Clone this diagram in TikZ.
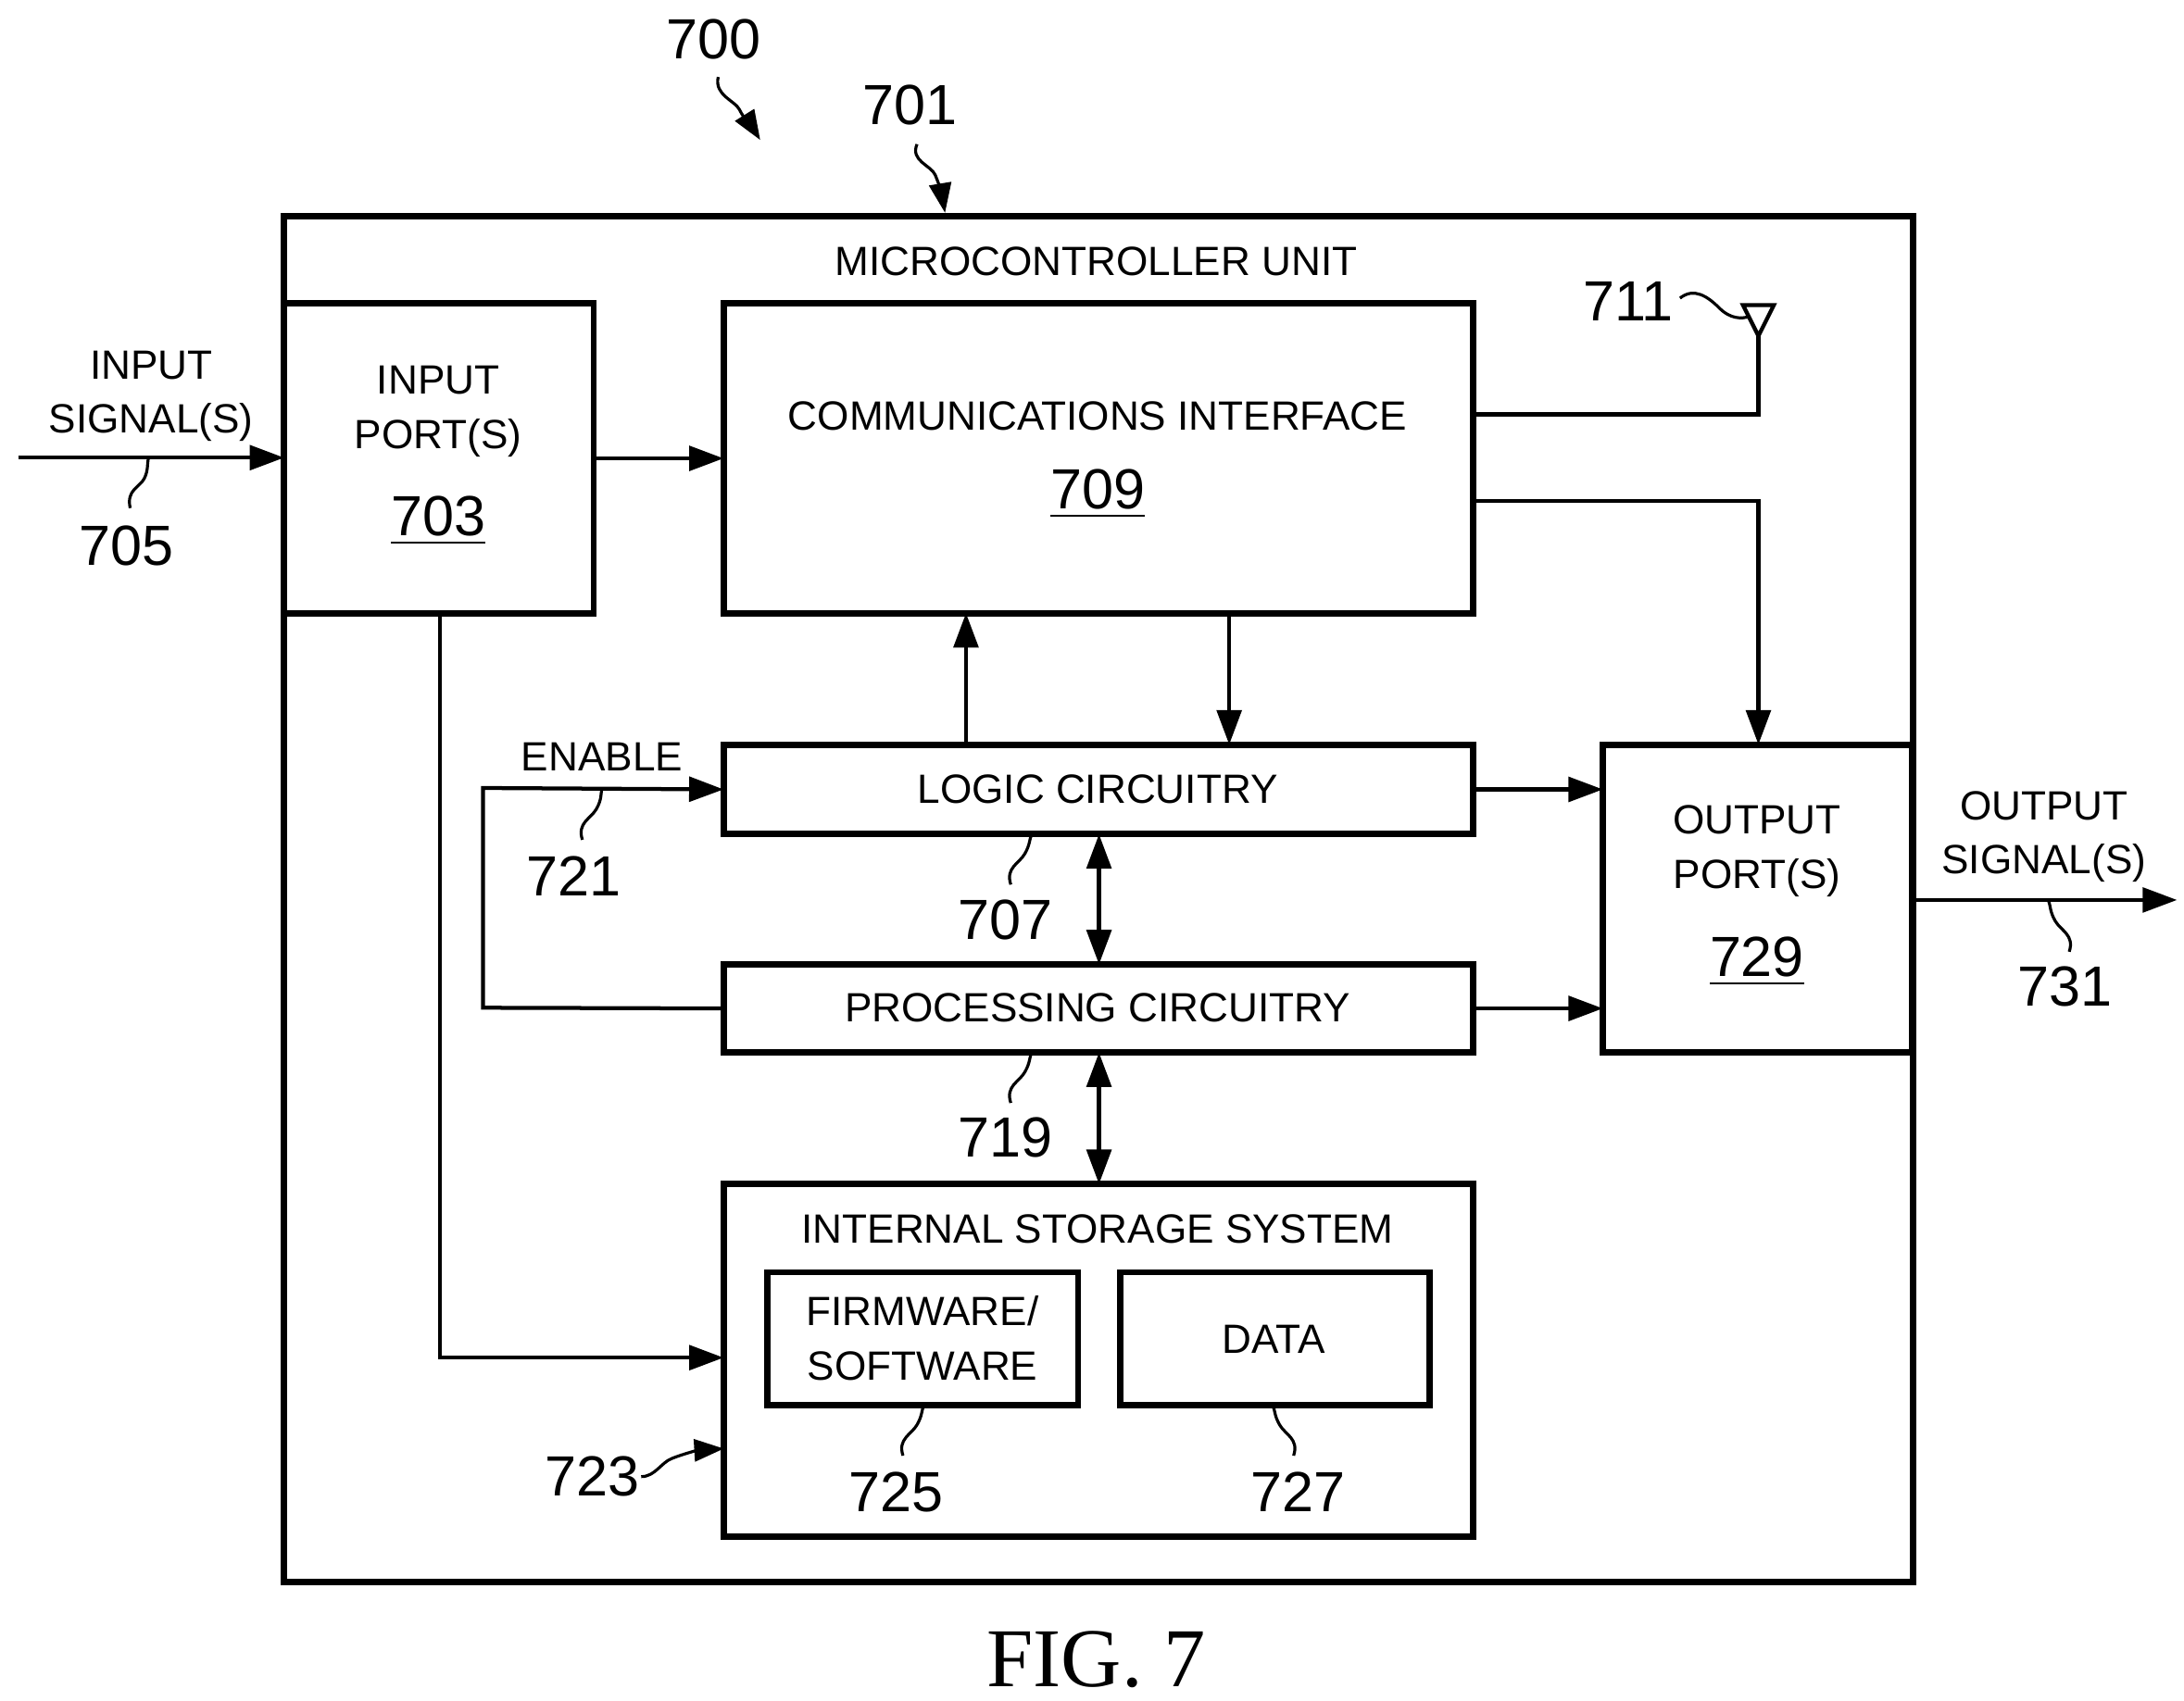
\documentclass[tikz,border=0pt]{standalone}
\usepackage{fontspec}
\setmainfont{Liberation Sans}
\newfontfamily\figfont{Liberation Serif}
\usetikzlibrary{arrows.meta,calc}
\begin{document}
\begin{tikzpicture}[x=0.01cm,y=-0.01cm,
  box/.style={draw,line width=1.3pt,inner sep=0pt,outer sep=0pt},
  lab/.style={font=\fontsize{8.3}{11}\selectfont,align=center,inner sep=0pt},
  num/.style={font=\fontsize{11.5}{14}\selectfont,inner sep=0pt},
  arr/.style={line width=0.8pt,-{Triangle[length=7pt,width=5pt]}},
  darr/.style={line width=0.8pt,{Triangle[length=7pt,width=5pt]}-{Triangle[length=7pt,width=5pt]}},
  ln/.style={line width=0.8pt},
  lead/.style={line width=0.6pt}]
\useasboundingbox (0,0) rectangle (1560,1215);
\node[box,minimum width=11.63cm,minimum height=9.75cm] (mcu) at (784.5,642.5) {};
\node[lab] at (783,187) {MICROCONTROLLER UNIT};
\node[box,minimum width=2.21cm,minimum height=2.21cm] (ip) at (313.5,327.5) {};
\node[lab] at (313,294) {INPUT\\PORT(S)};
\node[num] at (313,372) {\underline{703}};
\node[box,minimum width=5.35cm,minimum height=2.21cm] (ci) at (784.5,327.5) {};
\node[lab] at (784,297) {COMMUNICATIONS INTERFACE};
\node[num] at (784,353) {\underline{709}};
\node[box,minimum width=5.35cm,minimum height=0.64cm] (lc) at (784.5,564) {};
\node[lab] at (784,564) {LOGIC CIRCUITRY};
\node[box,minimum width=5.35cm,minimum height=0.63cm] (pc) at (784.5,720.5) {};
\node[lab] at (784,720) {PROCESSING CIRCUITRY};
\node[box,minimum width=5.35cm,minimum height=2.52cm] (st) at (784.5,972) {};
\node[lab] at (784,878) {INTERNAL STORAGE SYSTEM};
\node[box,minimum width=2.22cm,minimum height=0.95cm] (fw) at (659,956.5) {};
\node[lab] at (659,956) {FIRMWARE/\\SOFTWARE};
\node[box,minimum width=2.21cm,minimum height=0.95cm] (da) at (910.5,956.5) {};
\node[lab] at (910,957) {DATA};
\node[box,minimum width=2.21cm,minimum height=2.2cm] (op) at (1255.5,642) {};
\node[lab] at (1255,608) {OUTPUT\\PORT(S)};
\node[num] at (1255,687) {\underline{729}};
% antenna
\coordinate (ant) at (1256,240);
\draw[line width=0.8pt] (1245,218) -- (1267,218) -- (ant) -- cycle;
\draw[ln] (ci.east |- 0,296) -- (1256,296) -- (ant);
% arrows
\coordinate (in) at (13,327);
\draw[arr] (in) -- (ip.west |- in);
\draw[arr] (ip.east) -- (ci.west);
\draw[arr] (ci.east |- 0,358) -- (1256,358) -- (op.north -| 1256,0);
\draw[arr] (lc.north -| 690,0) -- (ci.south -| 690,0);
\draw[arr] (ci.south -| 878,0) -- (lc.north -| 878,0);
\draw[arr] (lc.east) -- (op.west |- lc.east);
\draw[arr] (pc.east) -- (op.west |- pc.east);
\draw[darr] (lc.south -| 785,0) -- (pc.north -| 785,0);
\draw[darr] (pc.south -| 785,0) -- (st.north -| 785,0);
\draw[arr] (pc.west) -- (345,720) -- (345,563) -- (lc.west);
\draw[arr] (ip.south -| 314,0) -- (314,970) -- (st.west |- 0,970);
\coordinate (out) at (1555,643);
\draw[arr] (op.east |- out) -- (out);
% texts
\node[lab] at (108,283) {INPUT\\SIGNAL(S)};
\node[lab] at (1460,598) {OUTPUT\\SIGNAL(S)};
\node[lab] at (430,541) {ENABLE};
\node[num] at (510,28) {700};
\node[num] at (650,75) {701};
\node[num] at (1163,215) {711};
\node[num] at (90,390) {705};
\node[num] at (410,626) {721};
\node[num] at (718,657) {707};
\node[num] at (718,813) {719};
\node[num] at (423,1055) {723};
\node[num] at (640,1066) {725};
\node[num] at (927,1066) {727};
\node[num] at (1475,705) {731};
\node[font=\figfont\fontsize{17}{20}\selectfont] at (783,1186) {FIG. 7};
% leaders
\draw[lead,-{Triangle[length=6pt,width=4.5pt]}] (513,55) .. controls (510,68) and (525,72) .. (528,78) .. controls (532,86) and (538,92) .. (543,100);
\draw[lead,-{Triangle[length=6pt,width=4.5pt]}] (655,103) .. controls (650,115) and (665,118) .. (668,125) .. controls (671,132) and (673,140) .. (675,152);
\draw[lead] (1200,213) .. controls (1210,205) and (1220,212) .. (1228,220) .. controls (1236,228) and (1244,228) .. (1250,226);
\draw[lead] (93,363) .. controls (90,350) and (100,348) .. (103,342) .. controls (106,336) and (105,332) .. (106,327);
\draw[lead] (416,600) .. controls (412,588) and (422,585) .. (426,578) .. controls (430,571) and (429,567) .. (430,563);
\draw[lead] (722,632) .. controls (718,620) and (728,617) .. (732,610) .. controls (736,603) and (735,600) .. (737,596);
\draw[lead] (722,788) .. controls (718,776) and (728,773) .. (732,766) .. controls (736,759) and (735,756) .. (737,752);
\draw[lead] (645,1040) .. controls (641,1028) and (651,1025) .. (655,1018) .. controls (659,1011) and (658,1008) .. (660,1004);
\draw[lead] (924,1040) .. controls (928,1028) and (918,1025) .. (914,1018) .. controls (910,1011) and (911,1008) .. (909,1004);
\draw[lead] (1478,680) .. controls (1482,668) and (1472,665) .. (1468,658) .. controls (1464,651) and (1465,648) .. (1463,643);
\draw[lead,-{Triangle[length=6pt,width=4.5pt]}] (458,1055) .. controls (468,1055) and (472,1045) .. (480,1042) .. controls (490,1038) and (500,1036) .. (517,1035);
\end{tikzpicture}
\end{document}
